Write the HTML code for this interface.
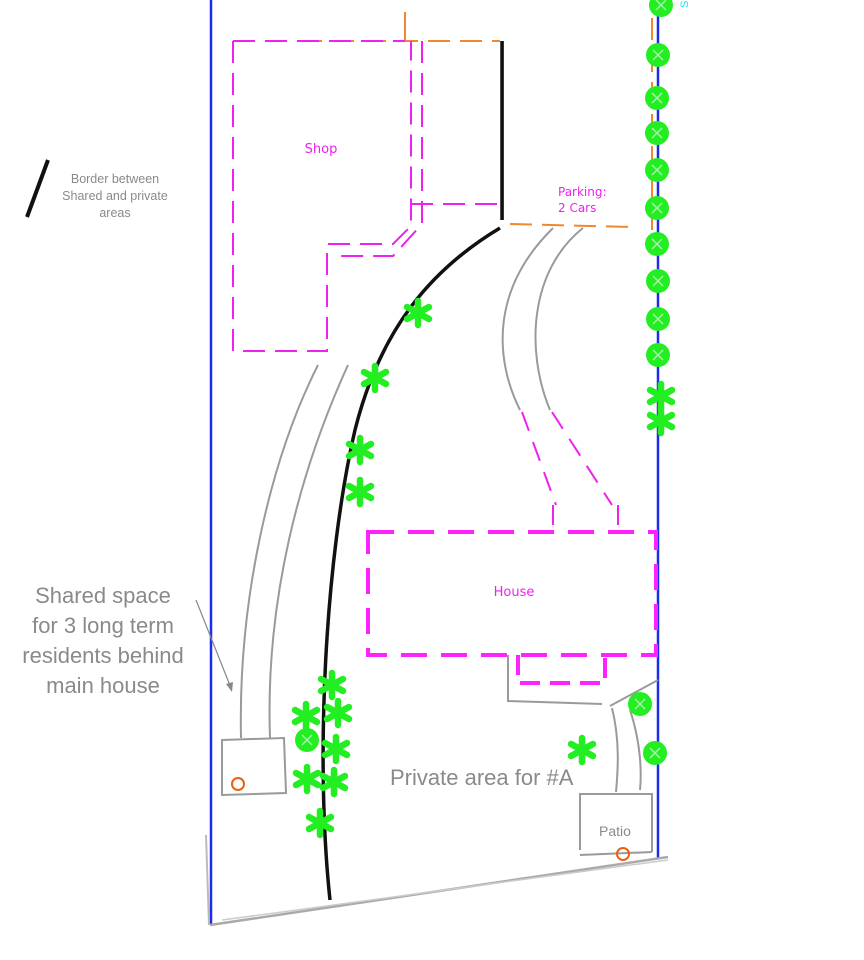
<!DOCTYPE html>
<html><head><meta charset="utf-8"><style>
html,body{margin:0;padding:0;background:#fff;}
svg{display:block;}
.g{fill:none;stroke:#9a9a9a;stroke-width:2;}
.m{fill:none;stroke:#ee22ee;stroke-width:2;stroke-dasharray:22 10;}
.mt{fill:none;stroke:#ff22ff;stroke-width:4;stroke-dasharray:26 14;}
.o{fill:none;stroke:#f08830;stroke-width:2;stroke-dasharray:22 10;}
.cm{font-family:"Comic Sans MS","DejaVu Sans",sans-serif;fill:#ee22ee;}
.gt{font-family:"Liberation Sans",sans-serif;fill:#8a8a8a;}
</style></head><body>
<svg width="864" height="960" viewBox="0 0 864 960" xmlns="http://www.w3.org/2000/svg">
<defs>
<g id="st"><g stroke="#22ee22" stroke-width="6.5" stroke-linecap="round">
<line x1="0" y1="-12" x2="0" y2="12"/><line x1="-11" y1="-6" x2="11" y2="6"/><line x1="-11" y1="6" x2="11" y2="-6"/></g></g>
<g id="tr"><circle r="12" fill="#22ee22"/><g stroke="#aaf0aa" stroke-width="1.5"><line x1="-5" y1="-5" x2="5" y2="5"/><line x1="-5" y1="5" x2="5" y2="-5"/></g></g>
</defs>
<line x1="211" y1="0" x2="211" y2="925" stroke="#1a2ee8" stroke-width="2.5"/>
<line x1="658" y1="0" x2="658" y2="858" stroke="#1a2ee8" stroke-width="2.5"/>
<line x1="206" y1="835" x2="209" y2="925" stroke="#bbb" stroke-width="2"/>
<line x1="210" y1="925" x2="668" y2="857" stroke="#aaa" stroke-width="2.5"/>
<line x1="222" y1="920" x2="668" y2="860" stroke="#ccc" stroke-width="1.5"/>
<line x1="405" y1="12" x2="405" y2="41" stroke="#f08830" stroke-width="2"/>
<line x1="652" y1="18" x2="652" y2="230" class="o"/>
<line x1="510" y1="224" x2="632" y2="227" class="o"/>
<line x1="300" y1="41" x2="500" y2="41" class="o"/>
<line x1="503" y1="41" x2="503" y2="220" stroke="#f08830" stroke-width="2"/>
<path class="m" d="M233 41 H405 M233 41 V351 H327 V244 H393 L411 226 V41"/>
<path class="m" d="M422 41 V224 L393 256 H340"/>
<line class="m" x1="411" y1="204" x2="500" y2="204"/>
<line x1="502" y1="41" x2="502" y2="220" stroke="#111" stroke-width="3.5"/>
<text x="321" y="153" class="cm" font-size="13" text-anchor="middle">Shop</text>
<text x="558" y="196" class="cm" font-size="12">Parking:</text>
<text x="558" y="212" class="cm" font-size="12">2 Cars</text>
<path d="M500 228 C430 270 380 330 355 430 C325 560 315 760 330 900" fill="none" stroke="#111" stroke-width="3.5"/>
<line x1="48" y1="160" x2="27" y2="217" stroke="#111" stroke-width="4"/>
<text class="gt" font-size="12.5" text-anchor="middle"><tspan x="115" y="183">Border between</tspan><tspan x="115" y="200">Shared and private</tspan><tspan x="115" y="217">areas</tspan></text>
<path class="g" d="M553 228 C490 290 495 360 520 410"/>
<path class="g" d="M583 228 C530 270 525 350 550 410"/>
<path class="m" stroke-width="4" d="M522 412 L556 505 M552 412 L612 505 M553 505 V535 M618 505 V535" style="stroke-dasharray:20 12"/>
<path class="g" d="M318 365 C270 460 238 600 241 738"/>
<path class="g" d="M348 365 C300 470 265 600 270 738"/>
<path class="mt" d="M368 532 H656 V655 H368 Z"/>
<path class="mt" d="M518 655 V683 H605 V655" style="stroke-dasharray:20 10"/>
<text x="514" y="596" class="cm" font-size="13" text-anchor="middle">House</text>
<path class="g" d="M508 655 V701 L602 704"/>
<path class="g" d="M610 706 L658 680"/>
<path class="g" d="M612 708 C620 740 618 770 616 792"/>
<path class="g" d="M630 710 C640 740 642 770 640 790"/>
<path class="g" d="M579 794 H652 V852 M580 855 L652 852 M580 795 V850"/>
<circle cx="623" cy="854" r="6" fill="none" stroke="#e86010" stroke-width="2"/>
<text x="615" y="836" class="gt" font-size="14" text-anchor="middle">Patio</text>
<path class="g" d="M222 740 L284 738 L286 793 L222 795 Z"/>
<circle cx="238" cy="784" r="6" fill="none" stroke="#e86010" stroke-width="2"/>
<line x1="196" y1="600" x2="231" y2="688" stroke="#888" stroke-width="1.2"/>
<path d="M226 684 L232 692 L233 682 Z" fill="#888"/>
<text class="gt" font-size="22" text-anchor="middle"><tspan x="103" y="603">Shared space</tspan><tspan x="103" y="633">for 3 long term</tspan><tspan x="103" y="663">residents behind</tspan><tspan x="103" y="693">main house</tspan></text>
<text x="390" y="785" class="gt" font-size="22">Private area for #A</text>
<text x="688" y="8" font-family="Liberation Sans,sans-serif" font-size="11" fill="#22ddee" transform="rotate(-90 688 8)">S</text>
<use href="#tr" x="661" y="5"/><use href="#tr" x="658" y="55"/><use href="#tr" x="657" y="98"/>
<use href="#tr" x="657" y="133"/><use href="#tr" x="657" y="170"/><use href="#tr" x="657" y="208"/>
<use href="#tr" x="657" y="244"/><use href="#tr" x="658" y="281"/><use href="#tr" x="658" y="319"/>
<use href="#tr" x="658" y="355"/><use href="#tr" x="640" y="704"/><use href="#tr" x="655" y="753"/>
<use href="#tr" x="307" y="740"/>
<use href="#st" x="661" y="396"/><use href="#st" x="661" y="421"/>
<use href="#st" x="418" y="313"/><use href="#st" x="375" y="378"/><use href="#st" x="360" y="450"/>
<use href="#st" x="360" y="492"/><use href="#st" x="332" y="685"/><use href="#st" x="306" y="716"/>
<use href="#st" x="338" y="713"/><use href="#st" x="336" y="749"/><use href="#st" x="307" y="779"/>
<use href="#st" x="334" y="782"/><use href="#st" x="320" y="823"/><use href="#st" x="582" y="750"/>
</svg>
</body></html>
